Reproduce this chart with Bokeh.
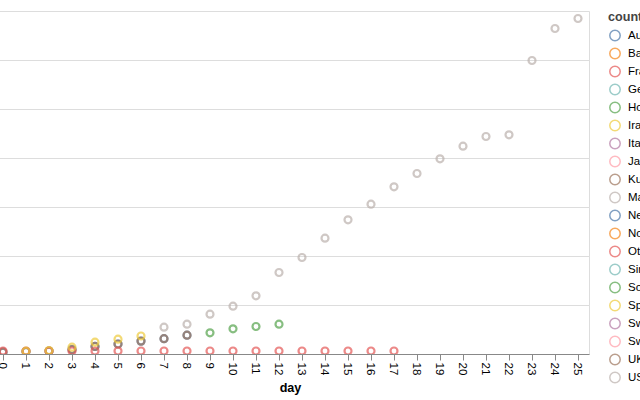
from bokeh.plotting import figure
from bokeh.models import FixedTicker, Legend, LegendItem, Range1d, Grid
from bokeh.embed import file_html
from bokeh.resources import INLINE

countries = ["Australia", "Bahrain", "France", "Germany", "Hong Kong", "Iran", "Italy",
             "Japan", "Kuwait", "Malaysia", "Netherlands", "Norway", "Others", "Singapore",
             "South Korea", "Spain", "Sweden", "Switzerland", "UK", "US"]
palette = ["#4c78a8", "#f58518", "#e45756", "#72b7b2", "#54a24b", "#eeca3b", "#b279a2",
           "#ff9da6", "#9d755d", "#bab0ac"]

day_ticks = list(range(26))
y_grid = [0, 1000, 2000, 3000, 4000, 5000, 6000, 7000]

australia_days = [0, 1, 2, 3, 4, 5, 6, 7, 8]
australia_cases = [47, 61, 71, 102, 165, 214, 273, 322, 394]
kuwait_days = [0, 1, 2, 3, 4, 5, 6, 7, 8]
kuwait_cases = [47, 61, 71, 102, 165, 214, 273, 322, 394]
iran_days = [1, 2, 3, 4, 5, 6]
iran_cases = [67, 82, 149, 251, 312, 378]
others_days = [0, 1, 2, 3, 4, 5, 6, 7, 8, 9, 10, 11, 12, 13, 14, 15, 16, 17]
others_cases = [71, 71, 71, 71, 71, 71, 71, 71, 71, 71, 71, 71, 71, 71, 71, 71, 71, 71]
korea_days = [9, 10, 11, 12]
korea_cases = [443, 524, 571, 618]
us_days = [7, 8, 9, 10, 11, 12, 13, 14, 15, 16, 17, 18, 19, 20, 21, 22, 23, 24, 25]
us_cases = [557, 618, 822, 986, 1198, 1673, 1980, 2373, 2749, 3067, 3422, 3694, 3994,
            4251, 4449, 4484, 6000, 6653, 6857]

series = {
    "Australia": (australia_days, australia_cases),
    "Kuwait": (kuwait_days, kuwait_cases),
    "Others": (others_days, others_cases),
    "South Korea": (korea_days, korea_cases),
    "Iran": (iran_days, iran_cases),
    "US": (us_days, us_cases),
}

FONT = "Liberation Sans"
NAN = float("nan")

p = figure(frame_width=598, frame_height=343, x_range=Range1d(-0.5, 25.5),
           y_range=Range1d(0, 7000),
           output_backend="svg", toolbar_location=None, y_axis_location=None,
           min_border_left=0, min_border_right=0, min_border_top=11, min_border_bottom=46,
           background_fill_color="white", border_fill_color="white",
           outline_line_color="#dddddd",
           styles={"margin-left": "-9px"})

p.xgrid.visible = False
p.add_layout(Grid(dimension=1, ticker=FixedTicker(ticks=y_grid), grid_line_color="#dddddd",
                  grid_line_width=1))

ax = p.xaxis[0]
ax.ticker = FixedTicker(ticks=day_ticks)
ax.major_label_orientation = "vertical"
ax.axis_line_color = "#888888"
ax.major_tick_line_color = "#888888"
ax.minor_tick_line_color = None
ax.major_tick_in = 0
ax.major_tick_out = 6
ax.major_label_standoff = 2
ax.major_label_text_font = FONT
ax.major_label_text_font_size = "11.5px"
ax.major_label_text_color = "#000000"
ax.axis_label = "day"
ax.axis_label_text_font = FONT
ax.axis_label_text_font_style = "bold"
ax.axis_label_text_font_size = "12.6px"
ax.axis_label_text_color = "#000000"
ax.axis_label_standoff = 3

color_of = {c: palette[i % 10] for i, c in enumerate(countries)}

# data points, drawn in the order of the series table
for c, (d, v) in series.items():
    p.scatter(x=d, y=v, marker="circle", size=7, fill_color=None, line_color=color_of[c],
              line_alpha=0.7, line_width=2.2)

# legend entries
items = []
for c in countries:
    r = p.ellipse(x=[NAN], y=[NAN], width=10, height=10, width_units="screen",
                  height_units="screen", fill_color=None, line_color=color_of[c],
                  line_alpha=0.7, line_width=1.5)
    items.append(LegendItem(label=c, renderers=[r]))

legend = Legend(items=items, location=(19, -32), title="country",
                title_text_font=FONT, title_text_font_style="bold",
                title_text_font_size="12.6px", title_standoff=2,
                label_text_font=FONT, label_text_font_size="11.5px",
                label_text_color="#000000",
                glyph_width=13, glyph_height=18, label_height=18, spacing=0,
                label_standoff=7,
                padding=0, margin=0, border_line_alpha=0, background_fill_alpha=0)
p.add_layout(legend, "right")

open("out.html", "w").write(file_html(p, INLINE))
